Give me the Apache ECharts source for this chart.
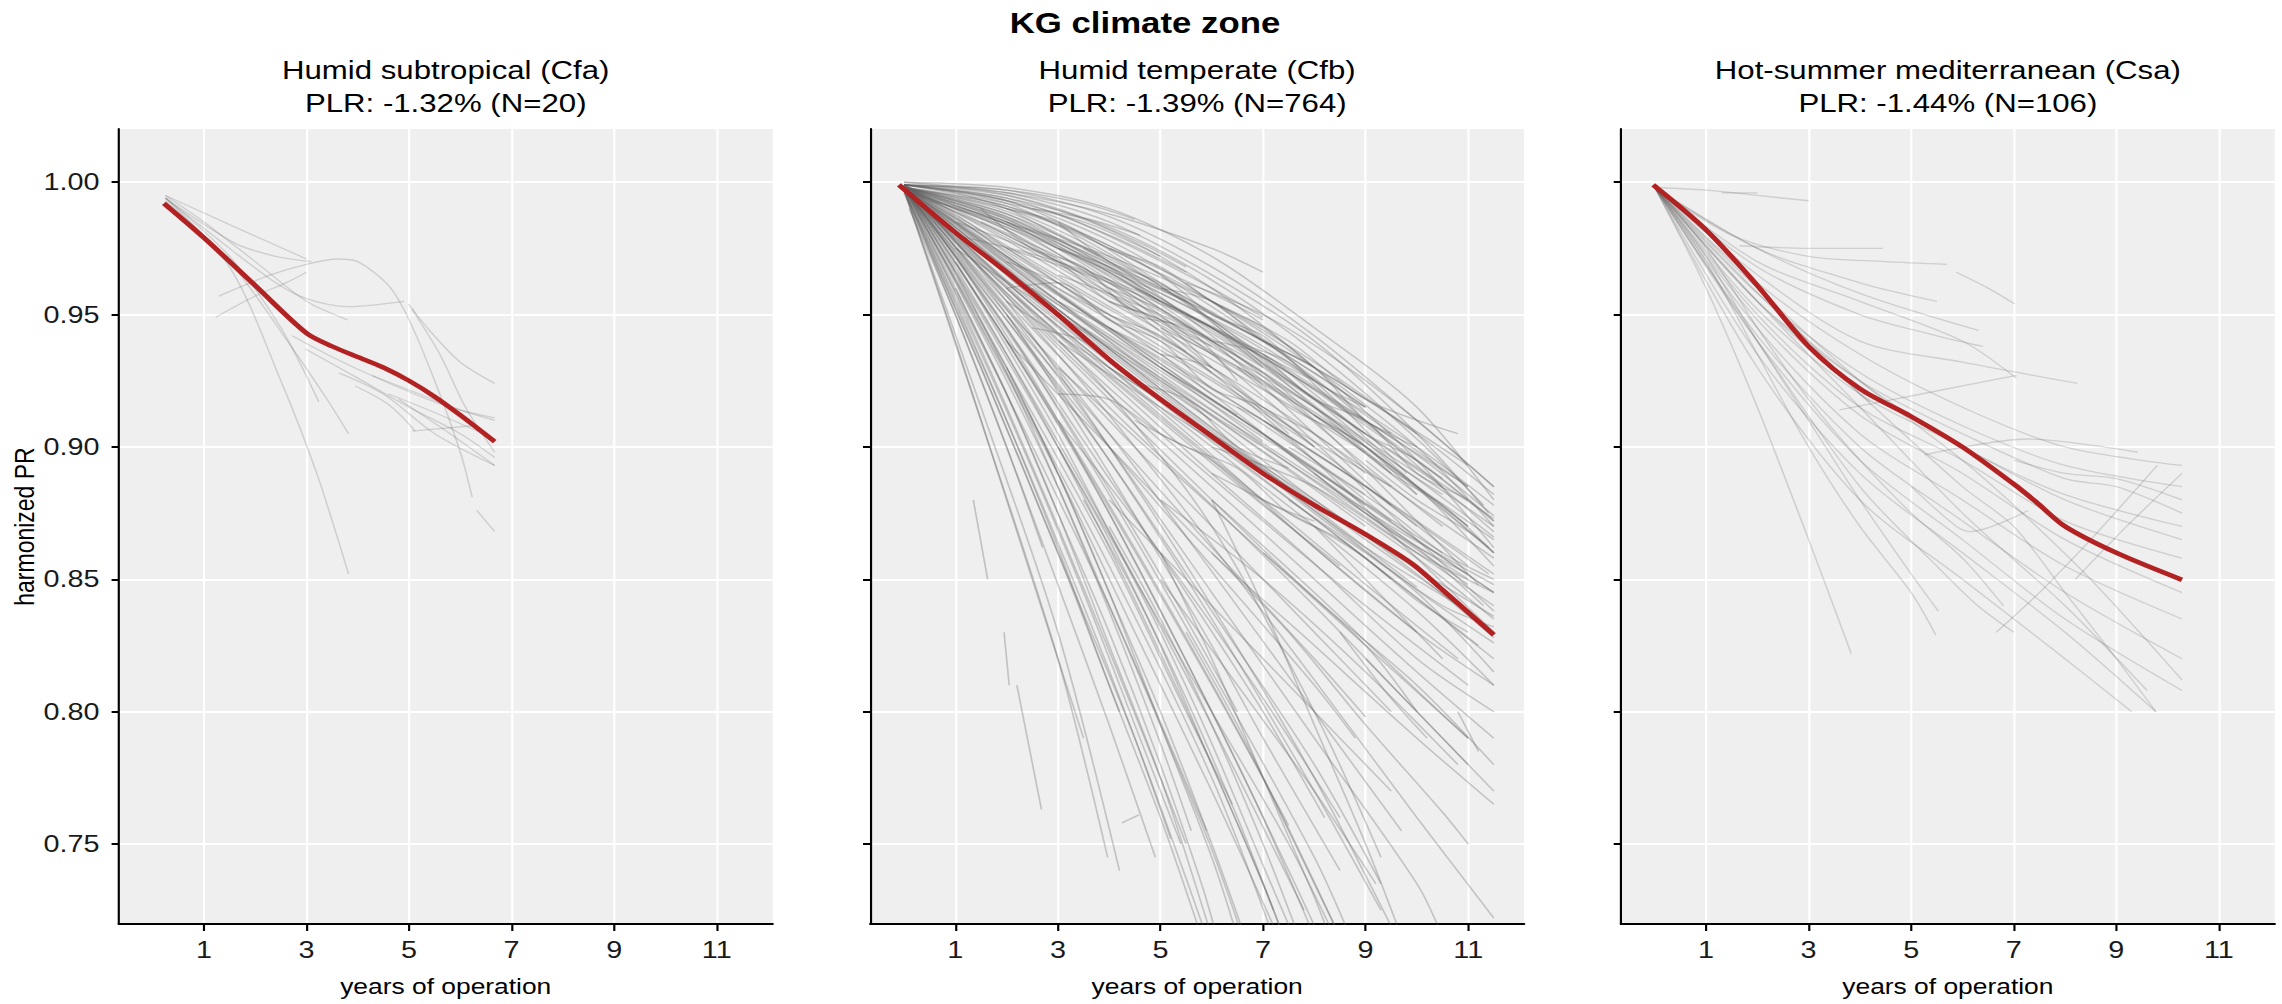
<!DOCTYPE html>
<html><head><meta charset="utf-8">
<script src="https://cdn.jsdelivr.net/npm/echarts@6/dist/echarts.min.js"></script>
<style>
html,body{margin:0;padding:0;background:#fff;overflow:hidden}
/* the reference figure is horizontally stretched; draw at 1902px and stretch to 2282px */
#c{width:1902px;height:1004px;transform:scaleX(1.19979);transform-origin:0 0}
</style>
</head><body><div id="c"></div>
<script>
// ---------- DATA ----------
const chartTitle = 'KG climate zone';
const panelNames = ['Humid subtropical (Cfa)', 'Humid temperate (Cfb)', 'Hot-summer mediterranean (Csa)'];
const panelStats = ['PLR: -1.32% (N=20)', 'PLR: -1.39% (N=764)', 'PLR: -1.44% (N=106)'];
const xAxisTitle = 'years of operation';
const yAxisTitle = 'harmonized PR';
const xTickValues = [1, 3, 5, 7, 9, 11];
const yTickValues = [0.75, 0.80, 0.85, 0.90, 0.95, 1.00];
const xRange = [-0.66, 12.09];
const yRange = [0.7198, 1.0201];

// median (red) curves: [years, PR]
const cfaMedian = [[0.22,0.992],[1,0.979],[2,0.961],[3,0.943],[3.5,0.938],[4,0.934],[4.5,0.930],[5,0.925],[5.5,0.919],[6,0.912],[6.67,0.902]];
const cfbMedian = [[-0.1,0.999],[1,0.981],[2,0.966],[3,0.950],[4,0.933],[5,0.918],[6,0.904],[7,0.890],[8,0.878],[9,0.867],[9.9,0.856],[10.5,0.846],[11.5,0.829]];
const csaMedian = [[-0.03,0.999],[1,0.982],[2,0.961],[3,0.938],[4,0.922],[5,0.9115],[6,0.900],[7,0.886],[7.45,0.879],[8,0.870],[9,0.860],[10.28,0.8498]];

// individual systems (thin grey): flat lists x0,y0,x1,y1,...
const cfaSystems = [
  [0.25,0.995, 1.5,0.984, 3.0,0.971],
  [0.25,0.994, 1.6,0.977, 2.4,0.972, 3.1,0.970],
  [1.29,0.957, 2.3,0.965, 3.0,0.969, 3.6,0.971, 4.0,0.970, 4.6,0.961, 5.0,0.948, 5.5,0.925, 6.0,0.898, 6.23,0.881],
  [1.23,0.949, 2.0,0.957, 2.6,0.962, 3.0,0.966],
  [0.25,0.994, 1.5,0.975, 2.4,0.962, 3.0,0.956, 3.8,0.953, 4.9,0.955],
  [4.99,0.954, 5.4,0.944, 6.0,0.932, 6.67,0.924],
  [0.25,0.994, 1.5,0.968, 2.5,0.925, 3.2,0.890, 3.82,0.852],
  [0.25,0.994, 1.5,0.972, 2.5,0.945, 3.24,0.917],
  [0.25,0.993, 1.5,0.970, 2.7,0.938, 3.4,0.918, 3.82,0.905],
  [2.72,0.942, 3.5,0.934, 4.5,0.925, 5.5,0.917, 6.67,0.910],
  [2.98,0.937, 4.0,0.926, 5.0,0.915, 6.0,0.905, 6.67,0.896],
  [3.63,0.928, 4.5,0.920, 5.5,0.905, 6.67,0.893],
  [3.95,0.923, 4.6,0.916, 5.12,0.906],
  [5.06,0.906, 6.23,0.908],
  [4.28,0.927, 5.2,0.920, 6.0,0.914, 6.67,0.911],
  [4.6,0.920, 5.5,0.913, 6.67,0.903],
  [0.25,0.995, 1.0,0.985, 2.0,0.970, 3.0,0.955, 3.8,0.948],
  [6.32,0.876, 6.67,0.868],
  [5.06,0.952, 5.6,0.935, 6.1,0.915, 6.67,0.898],
  [4.8,0.918, 5.8,0.905, 6.67,0.893]
];

const cfbSystems = [
  // upper bundle
  [0,1.0, 2,0.998, 4,0.990, 6,0.972, 8,0.945, 10,0.915, 11.5,0.880],
  [0,1.0, 2,0.996, 4,0.985, 6,0.965, 8,0.940, 10,0.905, 11.4,0.875],
  [0,0.999, 2,0.995, 4,0.982, 6,0.960, 8,0.930, 10,0.895, 11.5,0.862],
  [0,0.999, 2,0.993, 4,0.978, 6,0.955, 8,0.925, 9.8,0.890],
  [0,0.999, 2,0.992, 3.5,0.985, 5,0.972],
  [0,0.999, 1.5,0.995, 3,0.988, 4.5,0.975, 6,0.960, 7,0.949],
  [0,0.998, 2,0.990, 4,0.972, 6,0.948, 8,0.918, 10,0.885, 11.5,0.855],
  [0,0.998, 2,0.989, 4,0.970, 6,0.942, 8,0.910, 10,0.872, 11.2,0.848],
  [0,0.998, 2,0.987, 4,0.966, 6,0.940, 8,0.905, 9.5,0.878],
  [0,0.998, 2,0.985, 4,0.963, 6,0.935, 8,0.902, 10,0.865, 11.5,0.838],
  [0,0.997, 2,0.984, 4,0.960, 6,0.930, 7.5,0.905],
  [0,0.997, 2,0.982, 4,0.958, 6,0.928, 8,0.895, 10,0.858, 11.5,0.830],
  [0,0.997, 3,0.975, 5,0.952, 7,0.925, 9,0.893, 10.5,0.870],
  [0,0.998, 2,0.990, 3.5,0.980, 5,0.962, 6.5,0.945],
  [0,0.999, 1.5,0.997, 3,0.990, 4.5,0.978, 5.5,0.968],
  [0,0.998, 2,0.988, 4,0.968, 6,0.948, 8,0.925, 10,0.900, 11.5,0.878],
  [0,0.998, 2,0.991, 4,0.975, 6,0.955, 8,0.930, 10,0.900, 11.5,0.870],
  [0,0.997, 2,0.986, 4,0.965, 6,0.945, 8,0.918, 10.5,0.885],
  [0,0.999, 2,0.994, 4,0.980, 5.5,0.966],
  [0.5,0.993, 2,0.985, 4,0.968, 5.5,0.955],
  [1,0.980, 3,0.970, 5,0.955, 7,0.935, 9,0.910, 11,0.885],
  [2,0.975, 4,0.962, 6,0.945, 8,0.922, 10,0.895, 11.5,0.872],
  [3,0.965, 5,0.950, 7,0.930, 9,0.900, 11.4,0.862],
  [4,0.955, 6,0.940, 8,0.915, 10,0.885, 11.5,0.860],
  [5,0.945, 7,0.925, 9,0.900, 11,0.870],
  [0,0.999, 2,0.997, 3.5,0.992, 4.5,0.986],
  [2.5,0.990, 3.6,0.986, 4.6,0.980],
  [0,0.999, 2,0.996, 4,0.988, 6,0.975, 7,0.966],
  [5.5,0.962, 7,0.950, 8.5,0.932, 10,0.910, 11.5,0.885],
  [6,0.955, 7.5,0.940, 9,0.918, 10.8,0.905],
  [0,0.999, 2,0.997, 4,0.987, 6,0.968, 8,0.942, 10,0.910, 11.5,0.885],
  [0,0.999, 2,0.994, 4,0.983, 6,0.963, 8,0.936, 10,0.903, 11.3,0.878],
  [0,0.998, 2,0.991, 4,0.976, 6,0.953, 8,0.926, 10,0.893, 11.5,0.868],
  [0,0.998, 2,0.988, 4,0.971, 6,0.951, 8,0.928, 9,0.915],
  [0,0.998, 1.5,0.990, 3,0.978, 4.5,0.962, 6,0.944, 7.5,0.925, 9,0.905],
  [0,0.999, 2,0.993, 4,0.976, 6,0.958, 7,0.948],
  [0,0.998, 2,0.987, 4,0.969, 6,0.950, 8,0.930, 10,0.905, 11.5,0.882],
  [1,0.990, 3,0.978, 5,0.960, 7,0.940, 9,0.915],
  [2,0.985, 4,0.972, 6,0.955, 8,0.932, 10,0.905],
  [3,0.975, 5,0.958, 7,0.938, 9,0.912, 11,0.885],
  [0,0.997, 2,0.983, 4,0.962, 6,0.940, 8,0.915, 10,0.888, 11.5,0.866],
  [0,0.997, 2,0.980, 4,0.958, 6,0.936, 8,0.912, 10,0.882],
  [0,0.999, 2,0.992, 4,0.973, 6,0.947, 8,0.915, 9.5,0.890],
  [4.5,0.960, 6,0.945, 7.5,0.928, 9,0.908, 10.5,0.888],
  [0,0.998, 2,0.986, 4,0.967, 6,0.945, 8,0.922, 10,0.897, 11.5,0.874],
  [0,0.998, 3,0.976, 6,0.943, 9,0.905, 11.5,0.873],
  [6.5,0.945, 8,0.930, 9.5,0.912, 11,0.893],
  [0,0.999, 1,0.996, 2,0.990, 3,0.980, 3.8,0.972],
  [0,0.998, 2,0.984, 4,0.966, 5,0.955],
  [1.5,0.985, 3,0.972, 4.5,0.958, 6,0.940],
  // crossing, irregular systems in the upper cloud
  [1.5,0.990, 2.5,0.975, 3.5,0.968, 4.5,0.950, 5.5,0.945, 6.5,0.925],
  [2,0.960, 3,0.962, 4,0.948, 5,0.940, 6,0.922, 7,0.915, 8,0.900],
  [3,0.985, 4,0.970, 5,0.962, 6,0.948, 7,0.935, 8,0.925],
  [4,0.975, 5,0.965, 6,0.950, 7,0.942, 8,0.925, 9,0.915],
  [5,0.960, 6,0.955, 7,0.940, 8,0.930, 9,0.910, 10,0.900],
  [6,0.940, 7,0.935, 8,0.920, 9,0.905, 10,0.895, 11,0.880],
  [7,0.935, 8,0.918, 9,0.910, 10,0.890, 11,0.880, 11.5,0.872],
  [2.5,0.945, 3.5,0.940, 4.5,0.925, 5.5,0.918, 6.5,0.900, 7.5,0.892],
  [3,0.920, 4,0.918, 5,0.905, 6,0.895, 7,0.880, 8,0.872],
  [4.5,0.910, 5.5,0.900, 6.5,0.892, 7.5,0.875, 8.5,0.865, 9.5,0.850],
  [6,0.890, 7,0.880, 8,0.870, 9,0.858, 10,0.842, 11,0.830],
  [7.5,0.900, 8.5,0.888, 9.5,0.875, 10.5,0.860, 11.5,0.850],
  [8,0.912, 9,0.900, 10,0.885, 11,0.870],
  [5,0.935, 6,0.930, 7,0.915, 8,0.905, 9,0.890],
  [1,0.985, 2,0.978, 3,0.970, 4,0.955, 5,0.948, 6,0.930],
  [2,0.990, 3,0.985, 4,0.975, 5,0.968, 6,0.955, 7,0.945, 8,0.930],
  [3.5,0.975, 4.5,0.965, 5.5,0.955, 6.5,0.940, 7.5,0.932, 8.5,0.915, 9.5,0.905],
  [0,0.998, 1,0.990, 2,0.982, 3,0.970, 4,0.962, 5,0.948, 6,0.938],
  [0,0.998, 1,0.992, 2,0.985, 3,0.975, 4,0.968, 5,0.955, 6,0.945, 7,0.930],
  [6.5,0.930, 7.5,0.915, 8.5,0.905, 9.5,0.890, 10.5,0.878, 11.5,0.860],
  [9,0.895, 10,0.880, 11,0.868, 11.5,0.860],
  [4,0.960, 5,0.952, 6,0.940, 7,0.928, 8,0.912, 9,0.900, 10,0.882],
  [5.5,0.950, 6.5,0.940, 7.5,0.925, 8.5,0.912, 9.5,0.895, 10.5,0.882],
  [3,0.955, 4,0.945, 5,0.935, 6,0.920, 7,0.910, 8,0.895, 9,0.882],
  [2,0.970, 3,0.962, 4,0.950, 5,0.942, 6,0.928],
  // middle bundle around the median
  [0,0.999, 1,0.985, 3,0.955, 5,0.925, 7,0.900, 9,0.875, 11,0.850],
  [0,0.999, 1,0.983, 3,0.952, 5,0.922, 7,0.893, 9,0.865, 11.2,0.835],
  [0,0.998, 1,0.982, 3,0.948, 5,0.918, 7,0.888, 9,0.858, 11.5,0.820],
  [0,0.998, 1,0.980, 3,0.945, 5,0.912, 7,0.880, 9,0.848, 10.8,0.820],
  [0,0.997, 1,0.979, 3,0.943, 5,0.910, 7,0.878, 8.5,0.855],
  [0,0.997, 1,0.977, 3,0.940, 5,0.905, 7,0.872, 9,0.840, 11,0.810],
  [0,0.999, 1,0.986, 3,0.958, 5,0.930, 7,0.905, 9,0.878, 11.5,0.845],
  [0,0.999, 1,0.988, 3,0.962, 5,0.935, 7,0.910, 9,0.885, 11.4,0.852],
  [0,0.999, 1,0.987, 3,0.960, 5,0.940, 7,0.915, 8,0.900],
  [0,0.998, 1,0.984, 3,0.955, 5,0.930, 6.5,0.912],
  [0,0.998, 2,0.968, 4,0.940, 6,0.912, 8,0.885, 10,0.858, 11.5,0.835],
  [0,0.998, 2,0.965, 4,0.935, 6,0.905, 8,0.875, 10,0.845, 11.5,0.815],
  [0,0.999, 2,0.970, 4,0.945, 6,0.920, 8,0.890, 10,0.862, 11.3,0.840],
  [0,0.999, 2,0.972, 4,0.948, 6,0.925, 8,0.900, 10,0.870],
  [0,0.998, 2,0.966, 4,0.938, 6,0.910, 8,0.880, 9.6,0.860],
  [0,0.997, 2,0.962, 4,0.930, 6,0.900, 8,0.870, 10,0.838, 11.5,0.810],
  [0,0.999, 1.5,0.975, 3,0.952, 4.5,0.930, 6,0.910],
  [3,0.940, 5,0.915, 7,0.890, 9,0.862, 11,0.838],
  [4,0.930, 6,0.905, 8,0.880, 10,0.852, 11.5,0.828],
  [2,0.955, 4,0.930, 6,0.905, 8,0.878],
  [5,0.930, 7,0.905, 9,0.875, 11,0.848],
  [6,0.900, 8,0.885, 10,0.860, 11.5,0.845],
  [0,0.998, 2,0.975, 4,0.952, 6,0.930, 8,0.905, 10,0.878, 11.5,0.858],
  [0,0.999, 2,0.978, 4,0.955, 6,0.933, 8,0.910, 10,0.885, 11.5,0.865],
  [7,0.910, 9,0.885, 11,0.855],
  [0,0.999, 2,0.980, 4,0.960, 6,0.938, 8,0.915, 10,0.890, 11.5,0.870],
  [0,0.998, 2,0.979, 4,0.957, 6,0.935, 8,0.912, 9,0.898],
  [7.5,0.880, 9,0.860, 10.5,0.840, 11.5,0.832],
  [8,0.890, 9.5,0.868, 11,0.852],
  [6.5,0.915, 8,0.895, 9.5,0.872],
  [0,0.998, 2,0.972, 4,0.945, 6,0.918, 8,0.892, 10,0.865, 11.5,0.845],
  [0,0.998, 2,0.969, 4,0.941, 6,0.914, 8,0.887, 10,0.860, 11.5,0.840],
  [0,0.997, 2,0.967, 4,0.937, 6,0.907, 8,0.877, 10,0.847],
  [0,0.999, 2,0.974, 4,0.950, 6,0.926, 8,0.902, 9.5,0.885],
  [0,0.998, 2,0.971, 4,0.944, 6,0.916, 7,0.902],
  [2.5,0.960, 4.5,0.935, 6.5,0.910, 8.5,0.885, 10.5,0.860],
  [3.5,0.945, 5.5,0.920, 7.5,0.895, 9.5,0.870, 11.5,0.848],
  [0,0.998, 1.5,0.978, 3,0.958, 4.5,0.938, 6,0.918, 7.5,0.898, 9,0.878],
  [0,0.998, 2,0.963, 4,0.932, 6,0.902, 8,0.873, 10,0.843, 11.2,0.825],
  [5.5,0.910, 7.5,0.885, 9.5,0.860, 11.5,0.836],
  [0,0.997, 2,0.960, 4,0.927, 6,0.895, 8,0.862, 10,0.830],
  [0,0.999, 2,0.976, 4,0.953, 5.5,0.936],
  [4,0.945, 6,0.922, 8,0.898, 10,0.872, 11.5,0.852],
  [1,0.975, 3,0.950, 5,0.925, 7,0.898, 9,0.870],
  [0,0.998, 2,0.966, 4,0.936, 6,0.906, 8,0.876, 10,0.846, 11.5,0.826],
  // lower-middle
  [0,0.998, 2,0.958, 4,0.920, 6,0.885, 8,0.850, 10,0.815, 11.5,0.790],
  [0,0.997, 2,0.955, 4,0.915, 6,0.878, 8,0.840, 10,0.800, 11,0.780],
  [0,0.998, 2,0.960, 4,0.925, 6,0.890, 8,0.856, 10,0.820, 11.5,0.800],
  [0,0.997, 2,0.952, 4,0.910, 6,0.870, 8,0.830, 9.5,0.800],
  [0,0.998, 2,0.950, 4,0.905, 6,0.862, 8,0.820, 9,0.798],
  [0,0.997, 2,0.948, 4,0.900, 6,0.855, 8,0.810, 8.8,0.790],
  [2,0.940, 4,0.900, 6,0.860, 8,0.825, 10,0.790, 11.5,0.765],
  [3,0.930, 5,0.895, 7,0.860, 9,0.825, 11,0.790],
  [0,0.998, 2,0.957, 4,0.918, 6,0.880, 8,0.843, 10,0.810, 11.5,0.780],
  [0,0.999, 2,0.962, 4,0.930, 6,0.897, 8,0.862, 10,0.830, 11.5,0.810],
  [5,0.880, 7,0.850, 9,0.815, 10.8,0.780],
  [6,0.880, 8,0.845, 10,0.808, 11,0.790],
  [8,0.870, 9,0.850, 10.5,0.820],
  [4,0.880, 6,0.840, 8,0.800, 9.5,0.770],
  [7,0.860, 9,0.825, 10,0.800],
  [8.5,0.830, 9.5,0.805, 10.2,0.790],
  [10.8,0.800, 11.2,0.785],
  [6,0.860, 7.5,0.830, 9,0.795, 10.5,0.762, 11,0.750],
  [9,0.820, 10,0.800, 11.5,0.770],
  // steep bundle leaving the bottom
  [0,0.998, 1,0.965, 2,0.930, 3,0.890, 4,0.845, 5,0.800, 6,0.750, 6.7,0.712],
  [0,0.998, 1,0.960, 2,0.920, 3,0.875, 4,0.830, 5,0.780, 5.8,0.735, 6.1,0.715],
  [0,0.997, 1,0.955, 2,0.910, 3,0.862, 4,0.810, 5,0.760, 5.8,0.715],
  [0,0.998, 1,0.968, 2,0.935, 3,0.900, 4,0.862, 5,0.822, 6,0.780, 7,0.735, 7.4,0.715],
  [0,0.997, 1,0.950, 2,0.900, 3,0.848, 4,0.795, 4.9,0.745],
  [0,0.998, 1,0.972, 2,0.942, 3,0.910, 4,0.875, 5,0.838, 6,0.800, 7,0.760, 8,0.715],
  [0,0.998, 1,0.962, 2,0.925, 3,0.885, 4,0.840, 5,0.795, 6,0.748, 6.6,0.715],
  [0,0.997, 1.5,0.930, 3,0.860, 4.5,0.790, 5.9,0.715],
  [0,0.998, 1.5,0.945, 3,0.890, 4.5,0.830, 6,0.770, 7.3,0.715],
  [0,0.998, 1.5,0.950, 3,0.900, 4.5,0.850, 6,0.800, 7.5,0.750, 8.4,0.715],
  [0,0.999, 2,0.955, 4,0.900, 6,0.840, 8,0.775, 9.6,0.715],
  [0,0.997, 1,0.940, 2,0.880, 3,0.820, 3.5,0.790],
  [0,0.998, 1,0.958, 2,0.915, 3,0.870, 4,0.823, 5,0.775, 5.5,0.750],
  [0.1,0.990, 1,0.950, 2,0.900, 2.7,0.862],
  [0,0.998, 2,0.940, 4,0.875, 6,0.800, 7.5,0.740, 8.1,0.715],
  [0,0.999, 2,0.950, 4,0.890, 6,0.825, 7,0.790, 8.5,0.740],
  [1,0.960, 2,0.920, 3,0.875, 4,0.825, 5,0.775, 6,0.715],
  [2,0.930, 3,0.890, 4,0.845, 5,0.795, 6,0.745, 6.5,0.715],
  [3,0.900, 4,0.865, 5,0.825, 6,0.780, 7,0.735, 7.4,0.715],
  [4,0.870, 5,0.835, 6,0.795, 7,0.750, 7.7,0.715],
  [1.35,0.880, 1.63,0.850],
  [2.2,0.810, 2.68,0.763],
  [1.95,0.830, 2.05,0.810],
  [0,0.998, 1,0.970, 2,0.938, 3,0.905, 4,0.868, 5,0.830, 6,0.788, 7,0.742, 7.6,0.715],
  [5,0.860, 6,0.820, 7,0.775, 8,0.730, 8.3,0.715],
  [6,0.880, 7,0.840, 8,0.795, 9,0.750, 9.7,0.715],
  [4.25,0.758, 4.58,0.761],
  [2,0.960, 4,0.920, 6,0.870, 8,0.800, 9.3,0.745],
  [0,0.998, 1.5,0.958, 3,0.915, 4.5,0.868, 5.5,0.835, 6.5,0.800],
  [0,0.998, 1,0.966, 2,0.928, 3,0.885, 4,0.838, 5,0.788, 5.6,0.755],
  [3.5,0.880, 4.5,0.845, 5.5,0.805, 6.5,0.760, 7.2,0.725],
  [0,0.997, 1.2,0.948, 2.4,0.896, 3.5,0.845, 4.6,0.790, 5.4,0.750],
  [0,0.998, 2,0.945, 4,0.888, 5.5,0.845, 7,0.800, 8.2,0.760],
  [5.5,0.830, 6.5,0.795, 7.5,0.755, 8.5,0.715],
  [0,0.998, 2,0.935, 4,0.868, 6,0.795, 7.8,0.725],
  [0,0.998, 2,0.928, 4,0.855, 6,0.775, 7.2,0.715],
  [0,0.997, 2,0.920, 4,0.840, 5.9,0.755],
  [0,0.997, 2,0.910, 3.5,0.840, 4.5,0.790, 5.2,0.752],
  [0,0.996, 1.5,0.930, 3,0.860, 4,0.810, 4.2,0.800],
  [0,0.997, 1.5,0.910, 3,0.820, 3.97,0.745],
  [0,0.997, 1.5,0.915, 3,0.830, 4.2,0.740],
  [0,0.998, 2,0.948, 4,0.895, 6,0.838, 8,0.780, 9.3,0.735],
  [0,0.998, 2,0.952, 4,0.900, 6,0.845, 8,0.790, 10,0.735, 10.5,0.715],
  [0,0.998, 2,0.945, 4,0.882, 6,0.815, 8,0.745, 8.7,0.715],
  [1,0.970, 3,0.910, 5,0.845, 7,0.775, 8.5,0.715],
  [0,0.998, 2,0.940, 4,0.877, 6,0.810, 7.5,0.757],
  [2,0.950, 4,0.895, 6,0.835, 8,0.770, 9.3,0.725],
  [0,0.998, 2,0.953, 4,0.905, 6,0.853, 8,0.800, 9.7,0.755],
  [0,0.998, 2,0.957, 4,0.912, 6,0.863, 8,0.812, 10,0.760, 11.5,0.722],
  [5,0.850, 6.5,0.810, 8,0.770, 9.2,0.735],
  [0,0.997, 2,0.930, 4,0.860, 5.5,0.800, 6.4,0.765],
  [3,0.910, 5,0.860, 7,0.805, 8.5,0.760]
];

const csaSystems = [
  [0,0.998, 1,0.997, 2,0.995, 3,0.993],
  [1.3,0.996, 2.0,0.996],
  [0,0.998, 1.5,0.980, 3,0.972, 4.5,0.970, 5.7,0.969],
  [1.65,0.976, 3,0.975, 4.45,0.975],
  [0,0.998, 2,0.975, 4,0.962, 5.5,0.955],
  [5.88,0.966, 6.5,0.960, 7.02,0.954],
  [0,0.998, 2,0.968, 4,0.950, 5.5,0.942, 6.4,0.938],
  [0,0.998, 2,0.970, 4,0.955, 6,0.940, 7.05,0.926],
  [0,0.998, 2,0.965, 4,0.940, 6,0.932, 8.24,0.924],
  [0,0.998, 2,0.962, 4,0.935, 6,0.915, 8,0.900, 10.28,0.893],
  [0,0.998, 2,0.958, 4,0.928, 6,0.908, 8,0.893, 10.28,0.885],
  [0,0.998, 2,0.955, 4,0.925, 6,0.905, 8,0.888, 9,0.885, 10.28,0.875],
  [0,0.998, 2,0.952, 4,0.920, 6,0.900, 8,0.880, 10.28,0.865],
  [0,0.998, 2,0.950, 4,0.915, 6,0.895, 8,0.872, 10.28,0.858],
  [0,0.998, 2,0.948, 4,0.912, 6,0.890, 8,0.865, 10.28,0.845],
  [0,0.998, 2,0.945, 4,0.905, 6,0.880, 8,0.855, 10.28,0.835],
  [0,0.998, 2,0.942, 4,0.900, 6,0.872, 8,0.845, 10.28,0.820],
  [0,0.998, 2,0.940, 4,0.895, 6,0.865, 8,0.835, 10.28,0.808],
  [0,0.998, 2,0.935, 4,0.890, 6,0.860, 8,0.830, 9.77,0.800],
  [0,0.998, 2,0.930, 4,0.880, 6,0.850, 8,0.820, 9.3,0.800],
  [0,0.998, 1,0.960, 2,0.915, 3,0.865, 3.83,0.822],
  [0,0.998, 1,0.970, 2,0.935, 3,0.900, 4,0.870, 5,0.845, 5.48,0.829],
  [0,0.998, 1,0.972, 2,0.940, 3,0.910, 4,0.880, 5,0.852, 5.53,0.838],
  [0,0.998, 1,0.975, 2,0.945, 3,0.918, 4,0.895, 5,0.875, 6,0.858, 6.8,0.840],
  [6.66,0.830, 7.5,0.845, 8.5,0.865, 9.8,0.893],
  [0,0.998, 2,0.955, 4,0.920, 6,0.885, 7,0.870, 8,0.845, 9,0.820, 9.77,0.800],
  [0,0.998, 2,0.960, 4,0.925, 6,0.895, 7,0.878, 8.5,0.850, 10.28,0.812],
  [3.6,0.914, 5.2,0.920, 7.05,0.927],
  [5.26,0.897, 7.28,0.903, 9.42,0.898],
  [7.0,0.895, 8.0,0.890, 9.0,0.888, 10.28,0.880],
  [5.0,0.885, 5.88,0.870, 6.14,0.868, 7.28,0.876],
  [0,0.998, 1.5,0.968, 3,0.940, 4.5,0.918, 6,0.900, 8,0.882, 10.28,0.870],
  [0,0.998, 2,0.975, 4,0.958, 6.31,0.944],
  [2.0,0.960, 3,0.940, 4,0.920, 4.2,0.917],
  [0,0.998, 2,0.940, 4,0.885, 5.5,0.855, 6.3,0.840, 7,0.830],
  [0,0.998, 2,0.955, 4,0.915, 6,0.875, 8,0.840, 9.6,0.808],
  [8.2,0.850, 9.2,0.870, 10.28,0.890]
];

// ---------- CHART ----------
const FONT = '"Liberation Sans", Arial, Helvetica, sans-serif';
const gridLefts = [99, 725.3, 1351];
const gridWidth = 545;
const gridTop = 129;
const gridHeight = 795;

function toPairs(flat) { const out = []; for (let i = 0; i < flat.length; i += 2) out.push([flat[i], flat[i + 1]]); return out; }

const grids = gridLefts.map(l => ({ left: l, top: gridTop, width: gridWidth, height: gridHeight, show: true, backgroundColor: '#EFEFEF', borderWidth: 0, containLabel: false }));

const xAxes = gridLefts.map((l, i) => ({
  type: 'value', gridIndex: i, min: xRange[0], max: xRange[1],
  name: xAxisTitle, nameLocation: 'middle', nameGap: 51,
  nameTextStyle: { fontSize: 22, color: '#000', fontFamily: FONT },
  axisLine: { show: true, onZero: false, lineStyle: { color: '#000', width: 2 } },
  axisTick: { show: true, length: 7, customValues: xTickValues, lineStyle: { color: '#000', width: 1.8 } },
  axisLabel: { show: true, customValues: xTickValues, margin: 14, fontSize: 24, color: '#1a1a1a', fontFamily: FONT },
  splitLine: { show: true, lineStyle: { color: '#FFFFFF', width: 1.8 } }
}));

const yAxes = gridLefts.map((l, i) => ({
  type: 'value', gridIndex: i, min: yRange[0], max: yRange[1],
  name: i === 0 ? yAxisTitle : '', nameLocation: 'middle', nameGap: 67, nameRotate: 90,
  nameTextStyle: { fontSize: 23, color: '#000', fontFamily: FONT },
  axisLine: { show: true, onZero: false, lineStyle: { color: '#000', width: 1.8 } },
  axisTick: { show: true, length: 6, customValues: yTickValues, lineStyle: { color: '#000', width: 2 } },
  axisLabel: { show: i === 0, customValues: yTickValues, margin: 16, fontSize: 24, color: '#1a1a1a', fontFamily: FONT,
    formatter: v => v.toFixed(2) },
  splitLine: { show: true, lineStyle: { color: '#FFFFFF', width: 2 } }
}));

const series = [];
const systemsByPanel = [cfaSystems, cfbSystems, csaSystems];
const mediansByPanel = [cfaMedian, cfbMedian, csaMedian];
const greyByPanel = ['rgba(105,105,105,0.24)', 'rgba(100,100,100,0.32)', 'rgba(105,105,105,0.24)'];
systemsByPanel.forEach((sys, p) => {
  sys.forEach(flat => {
    series.push({
      type: 'line', xAxisIndex: p, yAxisIndex: p, data: toPairs(flat),
      smooth: 0.3, symbol: 'none', silent: true, animation: false, clip: true, z: 2,
      lineStyle: { color: greyByPanel[p], width: p === 1 ? 1.4 : 1.3 }
    });
  });
});
mediansByPanel.forEach((m, p) => {
  series.push({
    type: 'line', xAxisIndex: p, yAxisIndex: p, data: m,
    smooth: 0.3, symbol: 'none', silent: true, animation: false, z: 5,
    lineStyle: { color: '#B22222', width: 4.5, cap: 'butt' }
  });
});

const titles = [{
  text: chartTitle, left: 954.3, top: 6, textAlign: 'center', padding: 0,
  textStyle: { fontSize: 29, fontWeight: 'bold', lineHeight: 34, color: '#000', fontFamily: FONT }
}];
gridLefts.forEach((l, i) => {
  titles.push({
    text: panelNames[i] + '\n' + panelStats[i], left: l + gridWidth / 2, top: 53, textAlign: 'center', padding: 0,
    textStyle: { fontSize: 26, fontWeight: 'normal', lineHeight: 33, color: '#000', fontFamily: FONT }
  });
});

const chart = echarts.init(document.getElementById('c'), null, { renderer: 'svg', width: 1902, height: 1004 });
chart.setOption({
  backgroundColor: '#FFFFFF',
  animation: false,
  title: titles,
  grid: grids,
  xAxis: xAxes,
  yAxis: yAxes,
  series: series
});
</script>
</body></html>
